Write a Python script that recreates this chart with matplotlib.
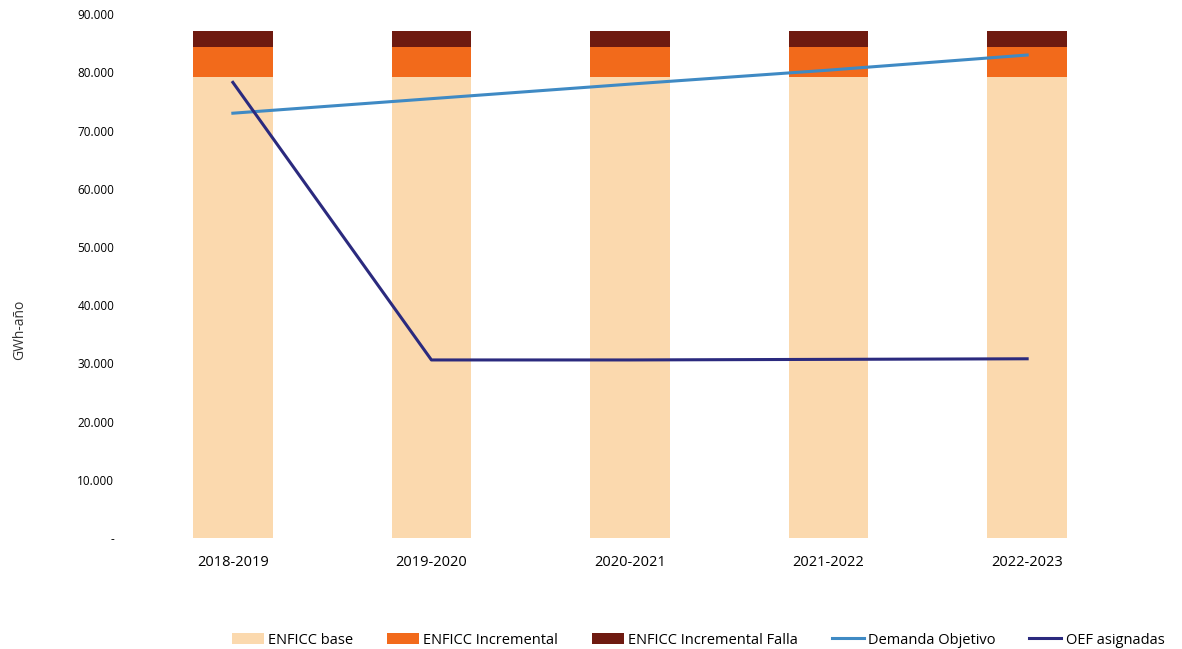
import matplotlib
matplotlib.use("Agg")
import matplotlib.pyplot as plt
from matplotlib.ticker import FuncFormatter
import numpy as np

categories = ["2018-2019", "2019-2020", "2020-2021", "2021-2022", "2022-2023"]
enficc_base = [79200, 79200, 79200, 79200, 79200]
enficc_incremental = [5100, 5100, 5100, 5100, 5100]
enficc_falla = [2800, 2800, 2800, 2800, 2800]
demanda_objetivo = [73000, 75500, 78000, 80400, 83000]
oef_asignadas = [78300, 30600, 30600, 30700, 30800]

plt.rcParams['font.family'] = ['Open Sans', 'DejaVu Sans']

fig = plt.figure(figsize=(11.82, 6.49), dpi=100)
ax = fig.add_axes([0.113, 0.171, 0.84, 0.807])

x = np.arange(len(categories))
w = 0.4
c_base = "#FBD9AE"
c_inc = "#F26A1B"
c_falla = "#6E1A10"
b1 = ax.bar(x, enficc_base, w, color=c_base, label="ENFICC base")
b2 = ax.bar(x, enficc_incremental, w, bottom=enficc_base, color=c_inc, label="ENFICC Incremental")
bot2 = np.array(enficc_base) + np.array(enficc_incremental)
b3 = ax.bar(x, enficc_falla, w, bottom=bot2, color=c_falla, label="ENFICC Incremental Falla")
l1, = ax.plot(x, demanda_objetivo, color="#3F8AC4", lw=2.2, label="Demanda Objetivo")
l2, = ax.plot(x, oef_asignadas, color="#2B2A7E", lw=2.2, label="OEF asignadas")

ax.set_xlim(-0.5, 4.5)
ax.set_ylim(0, 90000)
ax.set_yticks(np.arange(0, 90001, 10000))
ax.yaxis.set_major_formatter(FuncFormatter(lambda v, p: "-" if v == 0 else f"{int(v):,}".replace(",", ".")))
ax.set_xticks(x)
ax.set_xticklabels(categories, fontsize=10.5)
ax.tick_params(axis='y', labelsize=8.5, length=0, pad=14)
ax.tick_params(axis='x', length=0, pad=12)
for s in ax.spines.values():
    s.set_visible(False)

fig.text(20 / 1182, 1 - 330 / 649, "GWh-año", rotation=90, fontsize=10, color="#333333",
         ha="center", va="center")

fig.legend([b1, b2, b3, l1, l2],
           ["ENFICC base", "ENFICC Incremental", "ENFICC Incremental Falla", "Demanda Objetivo", "OEF asignadas"],
           loc="center", bbox_to_anchor=(698 / 1182, 1 - 640 / 649), ncol=5, frameon=False, fontsize=10.5,
           handlelength=2.2, handletextpad=0.3, columnspacing=2.3)

fig.savefig("out.png", dpi=100)
